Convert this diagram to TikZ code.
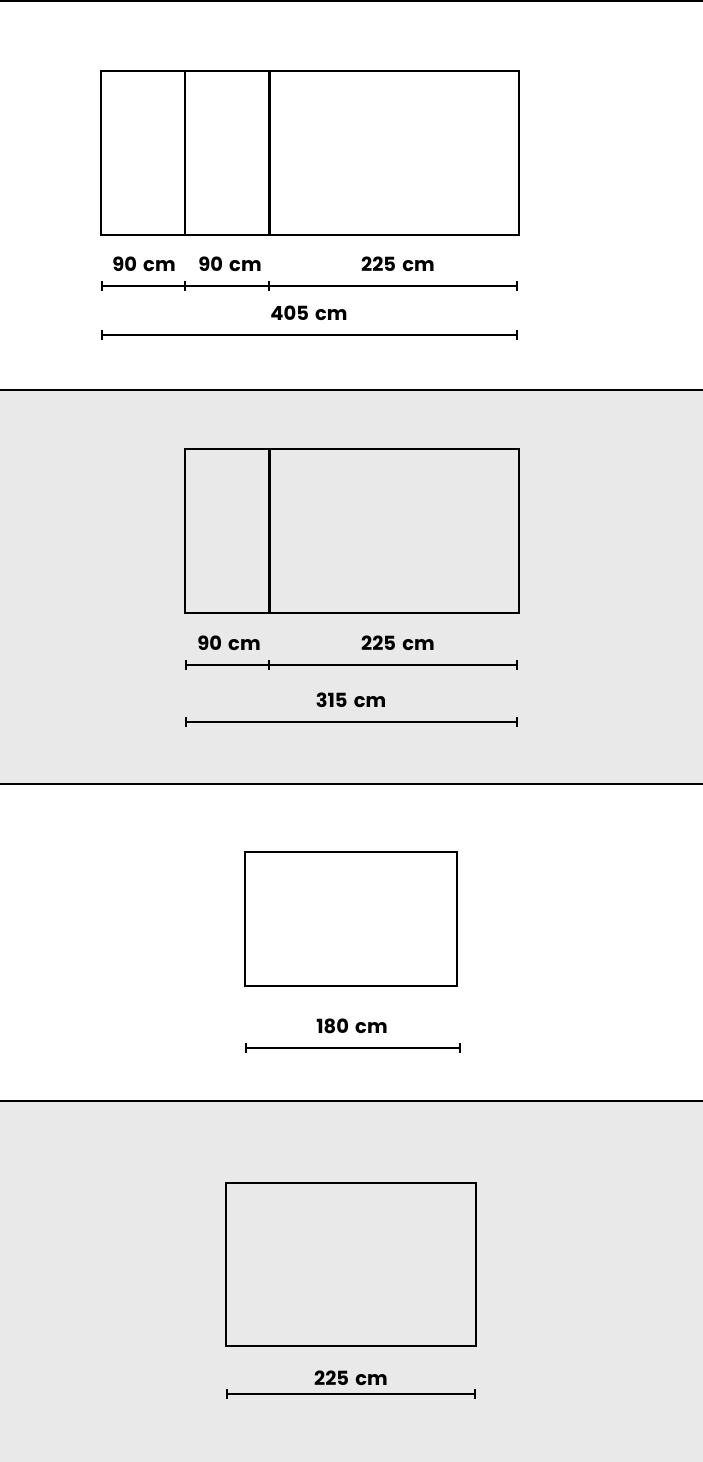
\documentclass[tikz,border=0pt]{standalone}
\usepackage{fontspec}
\setmainfont[WordSpace=1.5]{Poppins}
\usetikzlibrary{arrows.meta}
\definecolor{panelgray}{HTML}{E9E9E9}
\begin{document}
\begin{tikzpicture}[x=1pt,y=-1pt,
  box/.style={draw=black, line width=2.5pt, inner sep=0pt, outer sep=0pt, anchor=north west},
  divider/.style={line width=2.5pt},
  thickdivider/.style={line width=3pt},
  sep/.style={line width=2pt, draw=black},
  dimline/.style={line width=2.2pt, {Bar[width=10pt,line width=2pt]}-{Bar[width=10pt,line width=2pt]}},
  tick/.style={line width=2pt},
  lbl/.style={font=\bfseries\fontsize{19.5}{22}\selectfont, anchor=base, inner sep=0pt}]
\useasboundingbox (0,0) rectangle (703,1462);
% panels
\fill[panelgray] (0,390) rectangle (703,784);
\fill[panelgray] (0,1101) rectangle (703,1462);
\coordinate (s0l) at (0,1); \coordinate (s0r) at (703,1);
\coordinate (s1l) at (0,390); \coordinate (s1r) at (703,390);
\coordinate (s2l) at (0,784); \coordinate (s2r) at (703,784);
\coordinate (s3l) at (0,1101); \coordinate (s3r) at (703,1101);
\draw[sep] (s0l) -- (s0r);
\draw[sep] (s1l) -- (s1r);
\draw[sep] (s2l) -- (s2r);
\draw[sep] (s3l) -- (s3r);

% ===== Section 1 =====
\node[box, minimum width=418pt, minimum height=164pt] (b1) at (101,71) {};
\coordinate (b1d1t) at (185,71); \coordinate (b1d1b) at (185,235);
\coordinate (b1d2t) at (269,71); \coordinate (b1d2b) at (269,235);
\draw[divider] (b1d1t) -- (b1d1b);
\draw[thickdivider] (b1d2t) -- (b1d2b);
\coordinate (d1a) at (101,286); \coordinate (d1b) at (185,286);
\coordinate (d1c) at (269,286); \coordinate (d1d) at (518,286);
\draw[dimline] (d1a) -- (d1d);
\draw[tick] ([yshift=-5pt]d1b) -- ([yshift=5pt]d1b);
\draw[tick] ([yshift=-5pt]d1c) -- ([yshift=5pt]d1c);
\node[lbl] (l1a) at (144,271.5) {90 cm};
\node[lbl] (l1b) at (230,271.5) {90 cm};
\node[lbl] (l1c) at (398,271.5) {225 cm};
\coordinate (d2a) at (101,335); \coordinate (d2b) at (518,335);
\draw[dimline] (d2a) -- (d2b);
\node[lbl] (l1d) at (309,320.5) {405 cm};

% ===== Section 2 =====
\node[box, minimum width=334pt, minimum height=164pt] (b2) at (185,449) {};
\coordinate (b2d1t) at (269,449); \coordinate (b2d1b) at (269,613);
\draw[thickdivider] (b2d1t) -- (b2d1b);
\coordinate (d3a) at (185,665); \coordinate (d3b) at (269,665);
\coordinate (d3c) at (518,665);
\draw[dimline] (d3a) -- (d3c);
\draw[tick] ([yshift=-5pt]d3b) -- ([yshift=5pt]d3b);
\node[lbl] (l2a) at (229,650.5) {90 cm};
\node[lbl] (l2b) at (398,650.5) {225 cm};
\coordinate (d4a) at (185,722); \coordinate (d4b) at (518,722);
\draw[dimline] (d4a) -- (d4b);
\node[lbl] (l2c) at (351,707.5) {315 cm};

% ===== Section 3 =====
\node[box, minimum width=212pt, minimum height=134pt] (b3) at (245,852) {};
\coordinate (d5a) at (245,1048); \coordinate (d5b) at (461,1048);
\draw[dimline] (d5a) -- (d5b);
\node[lbl] (l3a) at (352,1033.5) {180 cm};

% ===== Section 4 =====
\node[box, minimum width=250pt, minimum height=163pt] (b4) at (226,1183) {};
\coordinate (d6a) at (226,1394); \coordinate (d6b) at (476,1394);
\draw[dimline] (d6a) -- (d6b);
\node[lbl] (l4a) at (351,1385.5) {225 cm};
\end{tikzpicture}
\end{document}
